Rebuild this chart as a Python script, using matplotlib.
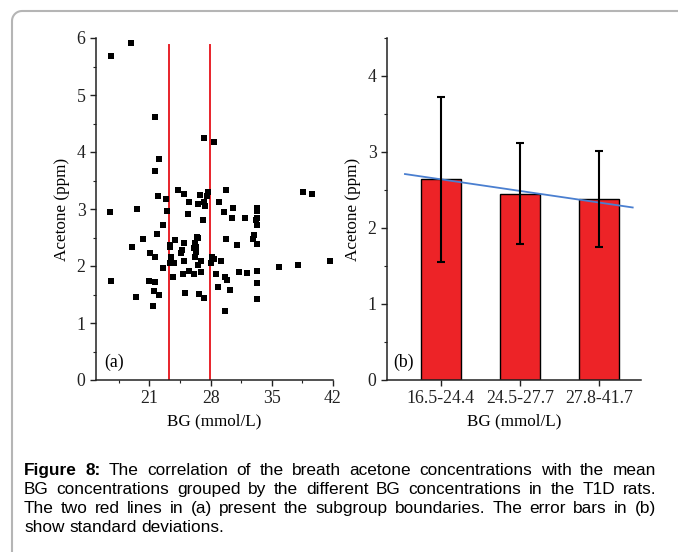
import matplotlib
matplotlib.use("Agg")
import matplotlib.pyplot as plt
import numpy as np
from matplotlib.lines import Line2D
from matplotlib.ticker import MultipleLocator

# ---------------- data ----------------
bg = [16.6, 18.9, 21.6, 22.1, 21.65, 21.95, 22.9, 23.0, 16.55, 19.6,
      27.26, 28.4, 24.3, 25.0, 25.5, 25.4, 26.84, 26.54, 27.2, 27.4,
      27.75, 27.6, 27.1, 29.8, 29.0, 29.55, 30.6, 30.5, 31.95, 33.3,
      33.3, 33.3, 33.2, 33.3, 38.6, 39.6, 22.57, 21.85, 20.25, 19.0,
      23.37, 23.37, 23.95, 24.97, 24.75, 24.6, 21.08, 21.6, 23.45, 23.37,
      23.86, 24.97, 22.55, 23.65, 24.88, 25.57, 26.05, 26.93, 26.42, 26.6,
      26.23, 26.3, 26.15, 26.35, 26.2, 26.6, 26.95, 28.15, 28.45, 28.06,
      29.24, 28.6, 29.74, 31.02, 29.7, 29.9, 31.23, 32.2, 28.85, 30.23,
      29.65, 26.65, 27.26, 25.05, 20.93, 21.62, 21.55, 22.1, 19.46, 21.43,
      16.65, 35.8, 38.0, 41.7, 33.0, 32.9, 33.36, 33.3, 33.3, 33.3]
acetone = [5.68, 5.91, 4.61, 3.88, 3.67, 3.23, 3.17, 2.97, 2.95, 3.00,
           4.25, 4.18, 3.33, 3.26, 3.12, 2.92, 3.24, 3.09, 3.12, 3.05,
           3.29, 3.22, 2.80, 3.34, 3.12, 2.94, 3.01, 2.84, 2.84, 3.01,
           2.96, 2.84, 2.80, 2.72, 3.29, 3.27, 2.72, 2.56, 2.47, 2.34,
           2.37, 2.33, 2.46, 2.40, 2.28, 2.23, 2.22, 2.15, 2.15, 2.06,
           2.06, 2.08, 1.96, 1.81, 1.86, 1.92, 1.86, 1.89, 2.51, 2.49,
           2.40, 2.34, 2.31, 2.25, 2.16, 2.02, 2.08, 2.16, 2.12, 2.05,
           2.08, 1.86, 2.47, 2.36, 1.80, 1.75, 1.89, 1.88, 1.63, 1.58,
           1.21, 1.51, 1.43, 1.52, 1.74, 1.72, 1.57, 1.49, 1.46, 1.29,
           1.74, 1.98, 2.01, 2.09, 2.54, 2.47, 2.38, 1.92, 1.71, 1.42]
boundaries = [23.25, 27.95]
boundary_top = 5.87

groups = ["16.5-24.4", "24.5-27.7", "27.8-41.7"]
group_mean = [2.64, 2.45, 2.38]
group_sd = [1.085, 0.663, 0.633]
trend_x = [-0.455, 2.425]
trend_y = [2.71, 2.27]

left_xticks = [21, 28, 35, 42]
caption_lines = [
    [("Figure 8:", True), ("The correlation of the breath acetone concentrations with the mean", False)],
    [("BG concentrations grouped by the different BG concentrations in the T1D rats.", False)],
    [("The two red lines in (a) present the subgroup boundaries. The error bars in (b)", False)],
    [("show standard deviations.", False)],
]

# ---------------- figure ----------------
W, H = 678, 552
fig = plt.figure(figsize=(W / 100, H / 100), dpi=100)
serif = "Liberation Serif"
sans = "Liberation Sans"
tick_fs = 12.8
lab_fs = 12.3

def px(x, y):
    return x / W, 1 - y / H

def style(ax):
    for s in ["top", "right"]:
        ax.spines[s].set_visible(False)
    for s in ["left", "bottom"]:
        ax.spines[s].set_linewidth(1.1)
        ax.spines[s].set_color("#222222")
    ax.tick_params(which="major", direction="out", length=4, width=1.0,
                   labelsize=tick_fs, colors="#222222")
    ax.tick_params(which="minor", direction="out", length=2.5, width=0.8, colors="#222222")
    for lab in ax.get_xticklabels() + ax.get_yticklabels():
        lab.set_fontfamily(serif)

# left panel
x0, y0 = px(96, 380)
x1, y1 = px(333, 38)
axa = fig.add_axes([x0, y0, x1 - x0, y1 - y0])
axa.scatter(bg, acetone, marker="s", s=18, color="black", linewidths=0, zorder=3)
for b in boundaries:
    axa.plot([b, b], [0, boundary_top], color="#e8232a", lw=1.4, zorder=2)
axa.set_xlim(14.9, 42)
axa.set_ylim(0, 6)
axa.set_xticks(left_xticks)
axa.xaxis.set_minor_locator(MultipleLocator(3.5))
axa.yaxis.set_major_locator(MultipleLocator(1))
axa.yaxis.set_minor_locator(MultipleLocator(0.5))
style(axa)
axa.set_xlabel("BG (mmol/L)", fontfamily=serif, fontsize=lab_fs, labelpad=4)
axa.set_ylabel("Acetone (ppm)", fontfamily=serif, fontsize=lab_fs, labelpad=5)
axa.text(0.035, 0.025, "(a)", transform=axa.transAxes, fontfamily=serif,
         fontsize=tick_fs, ha="left", va="bottom")

# right panel
x0, y0 = px(387, 380)
x1, y1 = px(641, 38)
axb = fig.add_axes([x0, y0, x1 - x0, y1 - y0])
pos = np.arange(len(groups))
axb.bar(pos, group_mean, width=0.505, color="#ed2327", edgecolor="black",
        linewidth=1.0, zorder=2)
axb.errorbar(pos, group_mean, yerr=group_sd, fmt="none", ecolor="black",
             elinewidth=1.5, capsize=3, capthick=1.5, zorder=4)
axb.plot(trend_x, trend_y, color="#4a7fd0", lw=1.3, zorder=3)
axb.set_xlim(-0.682, 2.53)
axb.set_ylim(0, 4.5)
axb.set_xticks(pos)
axb.set_xticklabels(groups)
axb.yaxis.set_major_locator(MultipleLocator(1))
axb.yaxis.set_minor_locator(MultipleLocator(0.5))
style(axb)
axb.set_xlabel("BG (mmol/L)", fontfamily=serif, fontsize=lab_fs, labelpad=4)
axb.set_ylabel("Acetone (ppm)", fontfamily=serif, fontsize=lab_fs, labelpad=5)
axb.text(0.025, 0.025, "(b)", transform=axb.transAxes, fontfamily=serif,
         fontsize=tick_fs, ha="left", va="bottom")

# border (left + top with rounded corner)
r = 10
xs = [12, 12]
ys = [H, 11 + r]
th = np.linspace(np.pi, np.pi / 2, 12)
xs += list(12 + r + r * np.cos(th))
ys += list(11 + r - r * np.sin(th))
xs += [W]
ys += [11]
fig.add_artist(Line2D([x / W for x in xs], [1 - y / H for y in ys],
                      transform=fig.transFigure, color="#b5b5b5", lw=1.5))

# justified caption
cap_fs = 12.4
left, right = 24, 656
baselines = [475, 494, 513, 532]
renderer = fig.canvas.get_renderer()

def measure(s, bold=False):
    t = fig.text(0, 0, s, fontfamily=sans, fontsize=cap_fs,
                 fontweight="bold" if bold else "normal")
    w = t.get_window_extent(renderer).width
    t.remove()
    return w

space = measure("a a") - measure("aa")
for li, (line, yb) in enumerate(zip(caption_lines, baselines)):
    words = []
    for seg, bold in line:
        for w in seg.split(" "):
            words.append((w, bold))
    widths = [measure(w, b) for w, b in words]
    if li < len(caption_lines) - 1 and len(words) > 1:
        gap = (right - left - sum(widths)) / (len(words) - 1)
    else:
        gap = space
    x = left
    for (w, bold), wdt in zip(words, widths):
        fig.text(*px(x, yb), w, fontfamily=sans, fontsize=cap_fs,
                 fontweight="bold" if bold else "normal", ha="left", va="baseline")
        x += wdt + gap

fig.savefig("out.png", dpi=100)
